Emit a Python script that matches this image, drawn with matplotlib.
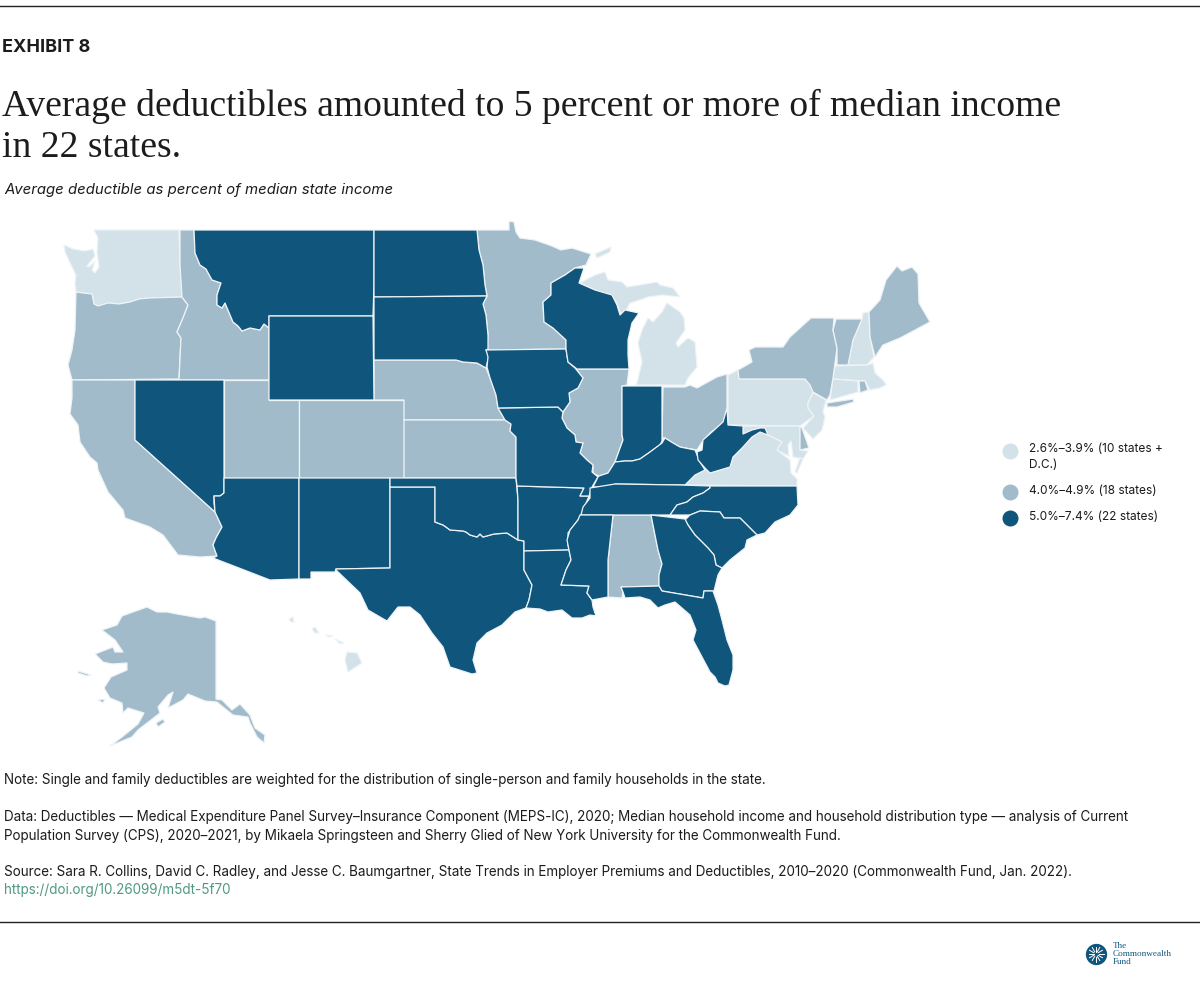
#!/usr/bin/env python3
"""Average deductible as percent of median state income, state choropleth."""
import numpy as np
import matplotlib
matplotlib.use("Agg")
import matplotlib.pyplot as plt

# state outlines (map x, map y)
WA = [(94,230),(179,230),(180,265),(182,297),(149,298),(139,299),(130,302),(119,304),(108,303),(98,306),(94,304),(92,294),(83,293),(76,292),(75,283),(76,275),(71,265),(65,252),(64,245),(73,249),(85,251),(93,249),(95,256),(87,266),(89,267),(95,261),(92,270),(95,273),(99,267),(97,252),(98,238)]
OR = [(76,292),(83,293),(92,294),(94,304),(98,306),(108,303),(119,304),(130,302),(139,299),(149,298),(182,297),(188,305),(183,318),(177,332),(181,338),(179,379),(72,380),(68,365),(72,350),(75,330)]
ID = [(180,230),(194,230),(195,253),(200,265),(206,269),(212,280),(221,283),(217,295),(217,305),(222,308),(225,303),(233,322),(238,326),(242,331),(250,328),(260,330),(264,324),(269,328),(269,380),(179,380),(181,338),(177,332),(183,318),(188,305),(182,297),(180,265)]
MT = [(194,230),(374,230),(374,285),(373,316),(269,316),(269,328),(264,324),(260,330),(250,328),(242,331),(238,326),(233,322),(225,303),(222,308),(217,305),(217,295),(221,283),(212,280),(206,269),(200,265),(195,253)]
WY = [(269,316),(373,316),(374,400),(269,400)]
ND = [(374,230),(477,230),(479,250),(483,265),(485,285),(487,296),(374,297)]
SD = [(374,297),(487,296),(483,304),(486,315),(488,335),(488,349),(486,350),(489,355),(486,368),(477,363),(463,362),(456,360),(374,360)]
NE = [(374,360),(456,360),(463,362),(477,363),(486,368),(490,378),(496,395),(498,408),(505,420),(404,420),(404,400),(374,400)]
KS = [(404,420),(505,420),(511,424),(510,431),(516,437),(516,478),(404,478)]
CO = [(299,400),(404,400),(404,478),(299,478)]
UT = [(224,380),(269,380),(269,400),(299,400),(299,478),(224,478)]
NV = [(135,380),(224,380),(224,478),(224,493),(220,496),(214,496),(214,503),(215,512),(135,440)]
CA = [(72,380),(135,380),(135,440),(215,512),(222,527),(216,538),(213,545),(217,556),(200,557),(178,555),(163,535),(150,527),(125,518),(123,510),(108,492),(98,470),(97,463),(90,457),(80,442),(78,425),(70,414),(72,398)]
AZ = [(224,478),(299,478),(299,579),(270,580),(213,558),(217,556),(213,545),(216,538),(222,527),(215,512),(214,496),(220,496),(224,493)]
NM = [(299,478),(390,478),(390,568),(336,569),(335,572),(311,572),(311,579),(299,579)]
OK = [(390,478),(516,478),(518,500),(518,540),(507,533),(494,534),(483,537),(480,534),(477,537),(470,535),(466,532),(463,531),(450,530),(446,527),(443,525),(435,522),(435,487),(390,487)]
TX = [(390,487),(435,487),(435,522),(443,525),(446,527),(450,530),(463,531),(466,532),(470,535),(477,537),(480,534),(483,537),(494,534),(507,533),(518,540),(524,541),(524,570),(532,585),(529,600),(526,608),(515,612),(502,625),(487,633),(477,643),(473,660),(477,673),(472,674),(450,667),(443,647),(432,633),(420,615),(410,607),(398,607),(387,621),(368,610),(360,593),(336,570),(336,569),(390,568)]
AR = [(517,486),(584,488),(580,496),(589,496),(582,513),(578,520),(568,533),(568,545),(569,550),(524,551),(524,541),(518,540),(518,500)]
LA = [(524,551),(569,550),(571,560),(566,570),(561,585),(589,586),(587,593),(592,600),(593,607),(596,616),(590,615),(582,618),(572,618),(562,610),(548,612),(540,609),(526,608),(529,600),(532,585),(524,570)]
MO = [(498,408),(558,407),(563,412),(562,418),(567,428),(575,435),(576,442),(583,443),(580,453),(587,460),(593,465),(592,472),(598,477),(592,487),(589,496),(580,496),(584,488),(517,486),(516,478),(516,437),(510,431),(511,424),(505,420)]
IA = [(486,350),(566,349),(568,362),(575,368),(583,378),(578,388),(569,393),(570,402),(563,412),(558,407),(498,408),(496,395),(490,378),(487,367),(488,357)]
MN = [(477,230),(509,230),(509,221),(514,222),(516,232),(520,238),(535,240),(552,246),(561,250),(572,248),(591,254),(586,265),(575,268),(565,275),(551,283),(551,295),(543,302),(544,322),(553,328),(566,340),(566,349),(486,350),(488,335),(486,315),(483,304),(487,296),(485,285),(483,265),(479,250)]
WI = [(575,268),(584,268),(579,283),(595,290),(612,295),(617,305),(620,315),(625,310),(639,313),(632,323),(628,340),(628,355),(629,369),(577,369),(568,362),(566,349),(566,340),(553,328),(544,322),(543,302),(551,295),(551,283),(565,275)]
IL = [(577,369),(629,369),(627,385),(622,386),(622,435),(623,440),(615,462),(608,473),(599,476),(593,473),(593,465),(587,460),(580,453),(583,443),(576,442),(575,435),(567,428),(562,418),(563,412),(570,402),(569,393),(578,388),(583,378),(575,368)]
IN = [(622,386),(662,386),(662,441),(660,445),(650,452),(640,459),(632,461),(625,461),(615,462),(623,440),(622,435)]
KY = [(662,443),(665,438),(673,443),(680,447),(695,450),(700,462),(705,470),(695,475),(685,485),(615,484),(614,487),(593,487),(598,477),(599,476),(608,473),(615,462),(625,461),(632,461),(640,459),(650,452)]
TN = [(590,488),(615,484),(680,485),(710,486),(710,488),(703,493),(693,497),(687,502),(677,505),(670,515),(581,515),(583,507),(590,498)]
NC = [(710,486),(797,486),(798,505),(790,515),(775,522),(765,533),(757,535),(740,518),(724,518),(720,512),(700,511),(690,515),(670,515),(677,505),(687,502),(693,497),(703,493),(710,488)]
SC = [(700,511),(720,512),(724,518),(740,518),(757,535),(747,540),(745,548),(730,560),(722,568),(716,565),(714,555),(708,548),(695,535),(688,525),(685,520),(690,515)]
GA = [(651,515),(685,519),(688,525),(695,535),(708,548),(714,555),(716,565),(722,568),(718,575),(714,591),(704,591),(703,598),(662,591),(659,586),(659,575),(662,564),(658,550)]
AL = [(613,515),(651,515),(658,550),(662,564),(659,575),(659,586),(621,587),(623,592),(622,598),(608,597),(608,560)]
MS = [(580,515),(613,515),(608,560),(608,597),(592,600),(587,593),(589,586),(561,585),(566,570),(571,560),(569,550),(567,540),(570,530),(578,520)]
FL = [(621,587),(659,586),(662,591),(703,598),(704,591),(713,591),(718,605),(722,620),(727,640),(733,655),(733,670),(729,685),(725,686),(718,683),(715,677),(710,672),(693,640),(696,630),(690,615),(675,602),(665,605),(658,608),(650,600),(640,597),(625,598),(623,592)]
OH = [(663,387),(685,387),(690,385),(697,388),(717,377),(727,374),(727,408),(723,423),(710,433),(702,442),(697,450),(680,447),(673,443),(665,438),(662,438)]
MI_LOWER = [(636,385),(685,385),(688,378),(697,367),(695,342),(688,338),(678,347),(676,343),(685,330),(684,318),(680,312),(667,303),(662,312),(653,322),(648,318),(642,330),(638,343),(642,362),(637,383)]
MI_UPPER = [(580,283),(595,275),(605,272),(608,280),(622,282),(627,287),(640,285),(657,282),(660,285),(673,288),(680,297),(663,295),(648,297),(640,300),(630,303),(623,317),(620,312),(617,303),(612,297),(595,290)]
MI_ISLE = [(595,254),(611,247),(610,252),(597,258)]
PA = [(728,375),(738,370),(739,379),(805,379),(810,385),(813,392),(808,403),(808,408),(814,416),(800,426),(728,425)]
NY = [(739,379),(738,370),(752,362),(749,350),(755,347),(783,347),(790,337),(811,318),(834,318),(833,330),(837,348),(833,378),(830,395),(827,400),(813,392),(810,385),(805,379)]
NY_LONG_ISLAND = [(827,403),(853,399),(854,402),(837,407),(827,407)]
VT = [(836,319),(862,319),(853,340),(848,365),(837,365),(837,348),(833,330)]
NH = [(863,313),(869,312),(870,337),(874,357),(867,365),(848,365),(853,340),(862,319)]
ME = [(869,312),(880,300),(886,280),(897,266),(902,271),(912,267),(918,274),(919,303),(930,322),(900,338),(883,345),(875,357),(870,337)]
MA = [(835,366),(867,365),(873,363),(875,373),(884,381),(886,385),(880,388),(870,390),(865,381),(833,379)]
CT = [(833,379),(858,381),(858,392),(830,400)]
RI = [(859,381),(865,381),(868,390),(860,393)]
NJ = [(813,393),(826,400),(823,412),(825,417),(822,430),(813,439),(803,428),(814,416),(808,408),(808,403)]
DE = [(800,426),(802,428),(809,448),(800,450)]
MD = [(743,426),(800,426),(800,450),(808,451),(803,459),(793,457),(791,441),(788,445),(789,456),(776,450),(782,442),(768,435),(760,428),(748,432),(743,434)]
VA = [(685,485),(690,476),(705,468),(710,473),(730,467),(733,457),(742,448),(752,437),(760,432),(768,435),(782,442),(777,450),(790,460),(791,473),(797,479),(797,486)]
VA_SHORE = [(803,459),(797,473),(795,472),(800,458)]
WV = [(727,408),(728,425),(743,426),(743,434),(752,430),(760,428),(765,428),(768,435),(760,432),(752,437),(742,448),(733,457),(730,467),(710,473),(705,468),(698,460),(697,452),(702,450),(703,440),(712,432),(723,422)]
AK = [(102,630),(117,625),(122,616),(133,612),(147,607),(157,612),(167,612),(177,614),(200,618),(205,617),(216,621),(216,699),(222,700),(232,710),(240,704),(250,715),(255,728),(265,735),(264,743),(257,737),(250,723),(248,717),(233,715),(223,707),(217,702),(205,701),(188,694),(183,700),(168,708),(173,692),(168,695),(158,707),(160,713),(138,730),(132,737),(110,746),(122,737),(138,724),(144,713),(128,708),(123,713),(122,703),(110,698),(104,688),(111,677),(127,670),(127,663),(112,664),(103,662),(95,654),(113,647),(115,652),(123,652),(115,640)]
AK_NUNIVAK = [(98,700),(105,699),(103,703)]
AK_LAWRENCE = [(78,671),(91,675),(87,676),(78,673)]
AK_KODIAK = [(156,723),(163,719),(165,722),(158,727)]
HI_BIG = [(347,652),(357,653),(362,663),(348,672),(345,660)]
HI_MAUI = [(335,639),(344,643),(340,644)]
HI_MOLOKAI = [(326,635),(333,636),(328,637)]
HI_OAHU = [(312,629),(315,627),(319,633),(315,633)]
HI_KAUAI = [(289,619),(293,617),(294,622),(291,622)]

low_states = [WA, MI_LOWER, MI_UPPER, MI_ISLE, PA, NH, MA, CT, NJ, MD, VA, VA_SHORE, HI_BIG, HI_MAUI, HI_MOLOKAI, HI_OAHU, HI_KAUAI]
mid_states = [OR, ID, CA, UT, CO, NE, KS, MN, IL, OH, NY, NY_LONG_ISLAND, VT, ME, RI, DE, AL, AK, AK_NUNIVAK, AK_LAWRENCE, AK_KODIAK]
high_states = [MT, WY, ND, SD, NV, AZ, NM, TX, OK, AR, LA, MO, IA, WI, IN, KY, TN, NC, SC, GA, FL, MS, WV]

legend_labels = ["2.6%\u20133.9% (10 states +\nD.C.)", "4.0%\u20134.9% (18 states)", "5.0%\u20137.4% (22 states)"]
band_colors = ["#d3e1e9", "#a1bbca", "#10557b"]

TEXT = "#1c1c1c"
BODY = 9.73

fig = plt.figure(figsize=(12, 9.84), dpi=100)
ax = fig.add_axes([0, 0, 1, 1])
ax.set_xlim(0, 1200)
ax.set_ylim(984, 0)
ax.axis("off")

for group, color in zip([low_states, mid_states, high_states], band_colors):
    for outline in group:
        xs, ys = zip(*outline)
        ax.fill(xs, ys, facecolor=color, edgecolor="#eef3f6", linewidth=0.9, joinstyle="round", zorder=2)

# rules
ax.plot([0, 1200], [6, 6], color="#222222", lw=1)
ax.plot([0, 1200], [922, 922], color="#222222", lw=1)

# headings
ax.text(2, 47, "EXHIBIT 8", family="Inter", fontweight="bold", fontsize=13, color=TEXT, va="center")
ax.text(2, 106, "Average deductibles amounted to 5 percent or more of median income",
        family="Liberation Serif", fontsize=27.1, color=TEXT, va="center")
ax.text(2, 148, "in 22 states.", family="Liberation Serif", fontsize=27.1, color=TEXT, va="center")
ax.text(4, 190, "Average deductible as percent of median state income", family="Inter", style="italic",
        fontsize=10.75, color=TEXT, va="center")

# legend
for y, label, color in zip([451, 492, 518], legend_labels, band_colors):
    ax.scatter([1010], [y], s=133, color=color, linewidths=0, zorder=3)
    ax.text(1029, y - 1 if "\n" not in label else y + 6, label, family="Inter", fontsize=8.55, color=TEXT,
            va="center", linespacing=1.45)

# notes
ax.text(4, 780, "Note: Single and family deductibles are weighted for the distribution of single-person and family households in the state.",
        family="Inter", fontsize=BODY, color=TEXT, va="center")
ax.text(4, 817, "Data: Deductibles \u2014 Medical Expenditure Panel Survey\u2013Insurance Component (MEPS-IC), 2020; Median household income and household distribution type \u2014 analysis of Current",
        family="Inter", fontsize=BODY, color=TEXT, va="center")
ax.text(4, 836, "Population Survey (CPS), 2020\u20132021, by Mikaela Springsteen and Sherry Glied of New York University for the Commonwealth Fund.",
        family="Inter", fontsize=BODY, color=TEXT, va="center")
ax.text(4, 872, "Source: Sara R. Collins, David C. Radley, and Jesse C. Baumgartner, State Trends in Employer Premiums and Deductibles, 2010\u20132020 (Commonwealth Fund, Jan. 2022).",
        family="Inter", fontsize=BODY, color=TEXT, va="center")
ax.text(4, 890, "https://doi.org/10.26099/m5dt-5f70", family="Inter", fontsize=BODY, color="#4f9a85", va="center")

# logo
ax.scatter([1096], [954], s=235, color="#10557b", linewidths=0, zorder=3)
for a in np.linspace(0, 2 * np.pi, 12, endpoint=False):
    ax.plot([1096 + 2.5 * np.cos(a), 1096 + 7.5 * np.cos(a)], [954 + 2.5 * np.sin(a), 954 + 7.5 * np.sin(a)],
            color="white", lw=0.7, zorder=4)
ax.text(1113, 954, "The\nCommonwealth\nFund", family="Liberation Serif", fontsize=6.6, color="#10557b",
        va="center", linespacing=0.95)

fig.savefig("out.png", dpi=100)
